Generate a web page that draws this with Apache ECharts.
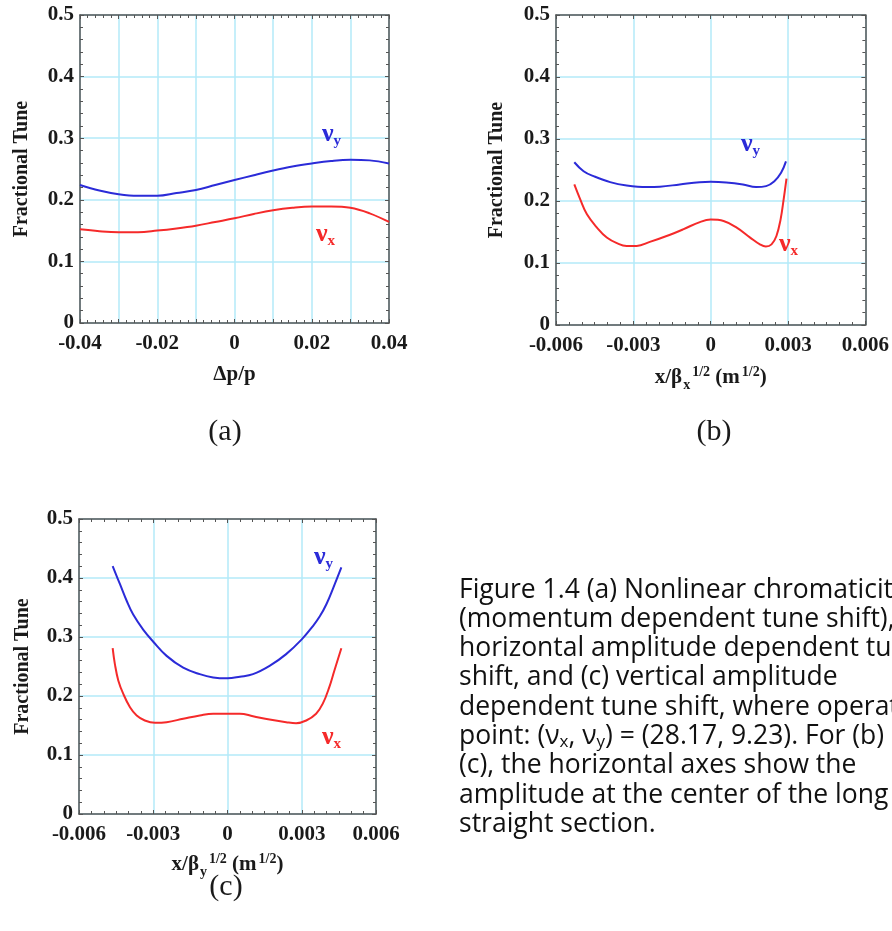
<!DOCTYPE html>
<html><head><meta charset="utf-8">
<script src="https://cdn.jsdelivr.net/npm/echarts@6/dist/echarts.min.js"></script>
<style>html,body{margin:0;padding:0;background:#fff}#c{width:892px;height:931px}</style>
</head><body><div id="c"></div>
<script>
// ---------- data ----------
// (a) nonlinear chromaticity
const aX    = [-0.04,-0.035,-0.03,-0.025,-0.02,-0.015,-0.01,-0.005,0,0.005,0.01,0.015,0.02,0.025,0.03,0.035,0.04];
const aNuY  = [0.224,0.215,0.209,0.2065,0.2065,0.211,0.216,0.224,0.232,0.240,0.2475,0.254,0.259,0.263,0.265,0.264,0.259];
const aNuX  = [0.152,0.149,0.1475,0.1475,0.150,0.1535,0.158,0.164,0.170,0.177,0.183,0.187,0.189,0.189,0.187,0.178,0.164];
// (b) horizontal amplitude
const bXy   = [-0.00529,-0.00493,-0.00454,-0.0039,-0.00326,-0.00248,-0.00197,-0.0012,-0.00043,0,0.0006,0.00125,0.00176,0.00215,0.00247,0.00273,0.00292];
const bNuY  = [0.2625,0.248,0.240,0.2304,0.225,0.2224,0.223,0.2267,0.2304,0.231,0.230,0.2267,0.2224,0.224,0.232,0.2455,0.264];
const bXx   = [-0.00529,-0.00506,-0.0048,-0.00441,-0.00403,-0.00364,-0.00326,-0.00287,-0.00236,-0.00171,-0.00107,-0.00042,0,0.0005,0.00101,0.00153,0.00191,0.00214,0.00236,0.00255,0.00271,0.00283,0.00294];
const bNuX  = [0.2267,0.2026,0.1785,0.157,0.141,0.132,0.1275,0.1275,0.134,0.1436,0.1543,0.166,0.170,0.1677,0.157,0.141,0.130,0.1265,0.130,0.1436,0.170,0.2026,0.236];
// (c) vertical amplitude
const cXy   = [-0.00464,-0.00434,-0.00407,-0.00381,-0.0034,-0.003,-0.00246,-0.00179,-0.00112,-0.00058,0,0.0005,0.00103,0.0017,0.00237,0.003,0.00346,0.00373,0.004,0.00427,0.0046];
const cNuY  = [0.420,0.389,0.361,0.338,0.312,0.292,0.268,0.248,0.237,0.2315,0.230,0.2327,0.237,0.251,0.271,0.296,0.319,0.335,0.356,0.383,0.418];
const cXx   = [-0.00464,-0.00455,-0.00441,-0.00421,-0.00394,-0.00367,-0.00334,-0.00293,-0.00246,-0.00179,-0.00112,-0.00058,0,0.0005,0.00103,0.0017,0.00237,0.00277,0.00318,0.00358,0.00385,0.00411,0.00431,0.0046];
const cNuX  = [0.281,0.254,0.226,0.2035,0.181,0.167,0.1585,0.1546,0.1557,0.1614,0.167,0.170,0.170,0.170,0.1658,0.160,0.1557,0.154,0.1585,0.170,0.187,0.2147,0.242,0.281];
// tick labels
const aXTicks = [-0.04,-0.02,0,0.02,0.04];
const aXLabels = ['-0.04','-0.02','0','0.02','0.04'];
const bcXTicks = [-0.006,-0.003,0,0.003,0.006];
const bcXLabels = ['-0.006','-0.003','0','0.003','0.006'];
const yTicks = [0,0.1,0.2,0.3,0.4,0.5];
const yLabels = ['0','0.1','0.2','0.3','0.4','0.5'];
const captionLines = [
  'Figure 1.4 (a) Nonlinear chromaticity',
  '(momentum dependent tune shift), (b)',
  'horizontal amplitude dependent tune',
  'shift, and (c) vertical amplitude',
  'dependent tune shift, where operating',
  'point: (ν{s|x}, ν{s|y}) = (28.17, 9.23). For (b) and',
  '(c), the horizontal axes show the',
  'amplitude at the center of the long',
  'straight section.'
];

// ---------- styling ----------
const SERIF = '"Liberation Serif", "Times New Roman", serif';
const SANS = '"Open Sans", "Noto Sans", sans-serif';
const AX = '#555';
const GRIDC = '#b3eaf9';
const BLUE = '#2b2bd8', RED = '#f52a2a';
const TXT = '#1a1a1a';

const chart = echarts.init(document.getElementById('c'));

function fmtFrom(ticks, labels) {
  return v => { for (let i = 0; i < ticks.length; i++) if (Math.abs(ticks[i] - v) < 1e-9) return labels[i]; return ''; };
}
const nameRich = {
  t:  {fontFamily: SERIF, fontWeight: 'bold', fontSize: 21, color: TXT},
  sb: {fontFamily: SERIF, fontWeight: 'bold', fontSize: 14, color: TXT, padding: [14, 0, 0, 1]},
  sp: {fontFamily: SERIF, fontWeight: 'bold', fontSize: 14, color: TXT, padding: [0, 0, 12, 2]}
};
function xMain(gi, min, max, interval, minorN, ticks, labels, name, gap) {
  return {
    type: 'value', gridIndex: gi, position: 'bottom', min, max, interval,
    axisLine: {show: true, onZero: false, lineStyle: {color: AX, width: 1.5}},
    axisTick: {show: true, inside: true, length: 4, lineStyle: {color: AX}},
    minorTick: {show: true, splitNumber: minorN, length: 3, lineStyle: {color: AX}},
    splitLine: {show: true, lineStyle: {color: GRIDC, width: 1.5}},
    axisLabel: {formatter: fmtFrom(ticks, labels), fontFamily: SERIF, fontWeight: 'bold', fontSize: 21, color: TXT, margin: 10},
    name, nameLocation: 'middle', nameGap: gap,
    nameTextStyle: {fontFamily: SERIF, fontWeight: 'bold', fontSize: 21, color: TXT, rich: nameRich}
  };
}
function xMirror(gi, min, max, interval, minorN) {
  return {
    type: 'value', gridIndex: gi, position: 'top', min, max, interval,
    axisLine: {show: true, onZero: false, lineStyle: {color: AX, width: 1.5}},
    axisTick: {show: true, inside: true, length: 4, lineStyle: {color: AX}},
    minorTick: {show: true, splitNumber: minorN, length: 3, lineStyle: {color: AX}},
    splitLine: {show: false}, axisLabel: {show: false}
  };
}
function yMain(gi, gap) {
  return {
    type: 'value', gridIndex: gi, position: 'left', min: 0, max: 0.5, interval: 0.1,
    axisLine: {show: true, onZero: false, lineStyle: {color: AX, width: 1.5}},
    axisTick: {show: true, inside: true, length: 4, lineStyle: {color: AX}},
    minorTick: {show: true, splitNumber: 5, length: 3, lineStyle: {color: AX}},
    splitLine: {show: true, lineStyle: {color: GRIDC, width: 1.5}},
    axisLabel: {formatter: fmtFrom(yTicks, yLabels), fontFamily: SERIF, fontWeight: 'bold', fontSize: 21, color: TXT, margin: 6},
    name: 'Fractional Tune', nameLocation: 'middle', nameGap: gap,
    nameTextStyle: {fontFamily: SERIF, fontWeight: 'bold', fontSize: 20, color: TXT}
  };
}
function yMirror(gi) {
  return {
    type: 'value', gridIndex: gi, position: 'right', min: 0, max: 0.5, interval: 0.1,
    axisLine: {show: true, onZero: false, lineStyle: {color: AX, width: 1.5}},
    axisTick: {show: true, inside: true, length: 4, lineStyle: {color: AX}},
    minorTick: {show: true, splitNumber: 5, length: 3, lineStyle: {color: AX}},
    splitLine: {show: false}, axisLabel: {show: false}
  };
}
function pairs(xs, ys) { return xs.map((x, i) => [x, ys[i]]); }
function line(gi, xs, ys, color) {
  return {
    type: 'line', xAxisIndex: gi * 2, yAxisIndex: gi * 2, data: pairs(xs, ys),
    smooth: 0.4, showSymbol: false, symbol: 'none', silent: true,
    lineStyle: {color, width: 2}, z: 5
  };
}
function nuLabel(x, y, sub, color) {
  return {
    type: 'text', x, y, z: 10,
    style: {
      text: '{n|ν}{s|' + sub + '}', verticalAlign: 'middle', align: 'left',
      rich: {
        n: {fontFamily: SERIF, fontWeight: 'bold', fontSize: 26, fill: color, color},
        s: {fontFamily: SERIF, fontWeight: 'bold', fontSize: 15, fill: color, color, padding: [14, 0, 0, 0]}
      }
    }
  };
}
function panelLabel(x, y, t) {
  return {type: 'text', x, y, style: {text: t, fontFamily: SERIF, fontSize: 30, fill: TXT, align: 'center', verticalAlign: 'middle'}};
}

const captionGraphics = captionLines.map((t, i) => ({
  type: 'text', x: 459, y: 590 + i * 29.3,
  style: {
    text: t, fontFamily: SANS, fontSize: 26.5, fill: '#111', verticalAlign: 'middle', align: 'left',
    rich: {s: {fontFamily: SANS, fontSize: 17, fill: '#111', padding: [12, 0, 0, 0]}}
  }
}));

chart.setOption({
  animation: false,
  backgroundColor: '#fff',
  grid: [
    {left: 80, top: 15, width: 309, height: 308},
    {left: 556, top: 15, width: 310, height: 310},
    {left: 79, top: 519, width: 297, height: 295}
  ],
  xAxis: [
    xMain(0, -0.04, 0.04, 0.01, 5, aXTicks, aXLabels, 'Δp/p', 41),
    xMirror(0, -0.04, 0.04, 0.01, 5),
    xMain(1, -0.006, 0.006, 0.003, 6, bcXTicks, bcXLabels, '{t|x/β}{sb|x}{sp|1/2}{t| (m}{sp|1/2}{t|)}', 39),
    xMirror(1, -0.006, 0.006, 0.003, 6),
    xMain(2, -0.006, 0.006, 0.003, 6, bcXTicks, bcXLabels, '{t|x/β}{sb|y}{sp|1/2}{t| (m}{sp|1/2}{t|)}', 37),
    xMirror(2, -0.006, 0.006, 0.003, 6)
  ],
  yAxis: [
    yMain(0, 48), yMirror(0),
    yMain(1, 49), yMirror(1),
    yMain(2, 46), yMirror(2)
  ],
  series: [
    line(0, aX, aNuY, BLUE), line(0, aX, aNuX, RED),
    line(1, bXy, bNuY, BLUE), line(1, bXx, bNuX, RED),
    line(2, cXy, cNuY, BLUE), line(2, cXx, cNuX, RED)
  ],
  graphic: [
    nuLabel(322, 134, 'y', BLUE), nuLabel(316, 234, 'x', RED),
    nuLabel(741, 144, 'y', BLUE), nuLabel(779, 244, 'x', RED),
    nuLabel(314, 557, 'y', BLUE), nuLabel(322, 737, 'x', RED),
    panelLabel(225, 432, '(a)'), panelLabel(714, 432, '(b)'), panelLabel(226, 887, '(c)'),
    ...captionGraphics
  ]
});
</script>
</body></html>
